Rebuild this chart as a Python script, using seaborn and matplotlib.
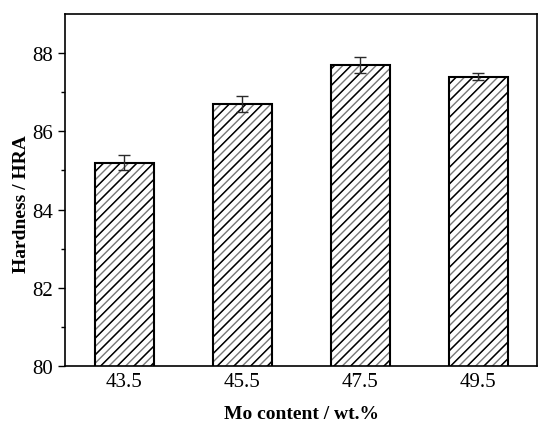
import matplotlib
matplotlib.use('Agg')
import matplotlib.pyplot as plt
import seaborn as sns
import pandas as pd
from matplotlib.ticker import MultipleLocator, FixedLocator

mo_content = ['43.5', '45.5', '47.5', '49.5']
hardness = [85.2, 86.7, 87.7, 87.4]
hardness_err = [0.2, 0.2, 0.2, 0.1]


def generate_plot():
    sns.set_style('ticks')
    plt.rcParams['font.family'] = ['Liberation Serif', 'DejaVu Serif']
    plt.rcParams['hatch.linewidth'] = 1.0
    plt.rcParams['text.color'] = 'black'
    plt.rcParams['axes.labelcolor'] = 'black'
    plt.rcParams['xtick.color'] = 'black'
    plt.rcParams['ytick.color'] = 'black'

    df = pd.DataFrame({'mo': mo_content, 'hrd': hardness})

    fig = plt.figure(figsize=(5.5, 4.35), dpi=100)
    ax = fig.add_axes([65 / 550, 68 / 435, 472 / 550, 352 / 435])

    # gray hatch underneath, black hatch + outline on top -> alternating lines
    sns.barplot(data=df, x='mo', y='hrd', ax=ax, color='white', width=0.5,
                errorbar=None)
    sns.barplot(data=df, x='mo', y='hrd', ax=ax, color='white', width=0.5,
                errorbar=None)
    n = len(mo_content)
    for p in ax.patches[:n]:
        p.set_facecolor('white')
        p.set_edgecolor('#7a7a7a')
        p.set_hatch('////')
        p.set_linewidth(0)
    for p in ax.patches[n:]:
        p.set_facecolor('none')
        p.set_edgecolor('black')
        p.set_hatch('//')
        p.set_linewidth(1.5)

    ax.errorbar(range(n), hardness, yerr=hardness_err, fmt='none',
                ecolor='#2a2a2a', elinewidth=1, capsize=4, capthick=1, zorder=5)

    ax.set_ylim(80, 89)
    ax.set_xlim(-0.5, 3.5)
    ax.yaxis.set_major_locator(MultipleLocator(2))
    ax.yaxis.set_minor_locator(FixedLocator([81, 83, 85, 87]))
    ax.tick_params(axis='y', which='major', direction='out', length=5, width=1,
                   labelsize=15)
    ax.tick_params(axis='y', which='minor', direction='out', length=3, width=1)
    ax.tick_params(axis='x', length=0, labelsize=15, pad=4)
    for s in ax.spines.values():
        s.set_visible(True)
        s.set_linewidth(1.2)
        s.set_color('black')

    ax.set_xlabel('Mo content / wt.%', fontsize=14, fontweight='bold')
    ax.set_ylabel('Hardness / HRA', fontsize=14, fontweight='bold')
    ax.xaxis.set_label_coords(0.5, -0.112)
    ax.yaxis.set_label_coords(-0.093, 0.463)
    ax.yaxis.label.set_va('center')

    fig.savefig('out.png', dpi=100)


if __name__ == '__main__':
    generate_plot()
